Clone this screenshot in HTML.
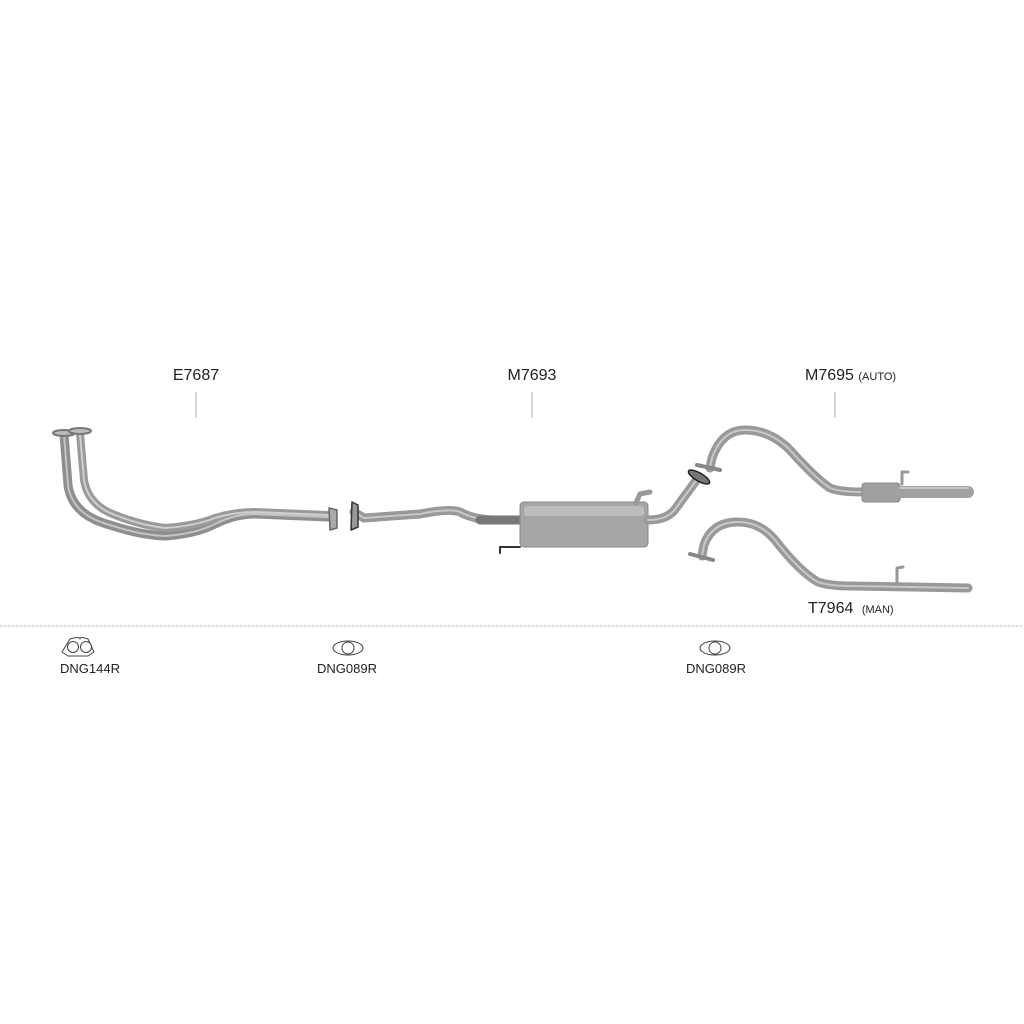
<!DOCTYPE html>
<html><head><meta charset="utf-8"><style>
html,body{margin:0;padding:0;background:#fff;}
svg{display:block;}
text{font-family:"Liberation Sans",sans-serif;fill:#222;}
</style></head><body>
<svg width="1024" height="1024" viewBox="0 0 1024 1024" xmlns="http://www.w3.org/2000/svg">
<g fill="none" stroke-linecap="round" stroke-linejoin="round">
<!-- leader lines -->
<line x1="196" y1="392" x2="196" y2="417" stroke="#aaa" stroke-width="1"/>
<line x1="532" y1="392" x2="532" y2="417" stroke="#aaa" stroke-width="1"/>
<line x1="835" y1="392" x2="835" y2="417" stroke="#aaa" stroke-width="1"/>
<!-- dotted separator -->
<line x1="0" y1="626" x2="1024" y2="626" stroke="#bbb" stroke-width="1" stroke-dasharray="2,2"/>

<!-- E7687 downpipes -->
<path d="M64 434 L68 485 Q72 515 110 525 Q140 535 165 536 Q195 534 215 524 Q235 514 255 514 L328 517" stroke="#8e8e8e" stroke-width="9"/>
<path d="M80 434 L84 480 Q88 505 115 515 Q140 525 165 528 Q195 526 215 518 Q235 512 255 512 L328 515" stroke="#9a9a9a" stroke-width="8"/>
<path d="M64 434 L68 485 Q72 515 110 525 Q140 535 165 536 Q195 534 215 524 Q235 514 255 514 L328 517" stroke="#c4c4c4" stroke-width="2"/>
<path d="M80 434 L84 480 Q88 505 115 515 Q140 525 165 528 Q195 526 215 518 Q235 512 255 512 L328 515" stroke="#cfcfcf" stroke-width="2"/>
<ellipse cx="64" cy="433" rx="11" ry="3" stroke="#777" stroke-width="2" fill="#bbb"/>
<ellipse cx="80" cy="431" rx="11" ry="3" stroke="#777" stroke-width="2" fill="#bbb"/>
<path d="M329 508 L337 510 L337 528 L330 530 Z" fill="#aaa" stroke="#666" stroke-width="1.5"/>

<!-- M7693 front pipe -->
<path d="M354 512 L364 518 L420 514 Q450 508 460 512 Q475 520 495 520 L520 520" stroke="#999" stroke-width="9"/>
<path d="M354 512 L364 518 L420 514 Q450 508 460 512 Q475 520 495 520 L520 520" stroke="#c8c8c8" stroke-width="2"/>
<path d="M480 520 L520 520" stroke="#777" stroke-width="9"/>
<path d="M352 502 L358 505 L358 527 L351 530 Z" fill="#999" stroke="#333" stroke-width="1.5"/>
<!-- muffler -->
<rect x="520" y="502" width="128" height="45" rx="4" fill="#a6a6a6" stroke="#888" stroke-width="1"/>
<rect x="524" y="506" width="120" height="10" rx="3" fill="#bcbcbc" stroke="none"/>
<path d="M520 547 L500 547 L500 553" stroke="#333" stroke-width="2"/>
<path d="M636 503 L640 494 L650 492" stroke="#999" stroke-width="5"/>
<!-- outlet -->
<path d="M648 520 Q668 520 676 508 L698 478" stroke="#999" stroke-width="9"/>
<path d="M648 520 Q668 520 676 508 L698 478" stroke="#c8c8c8" stroke-width="2"/>
<ellipse cx="699" cy="477" rx="12" ry="4" transform="rotate(30 699 477)" fill="#777" stroke="#222" stroke-width="1.5"/>

<!-- M7695 auto tailpipe -->
<path d="M710 468 L712 458 Q722 430 745 430 Q770 430 790 450 Q815 478 830 488 Q840 492 862 492" stroke="#999" stroke-width="9"/>
<path d="M710 468 L712 458 Q722 430 745 430 Q770 430 790 450 Q815 478 830 488 Q840 492 862 492" stroke="#c8c8c8" stroke-width="2"/>
<path d="M697 465 L720 470" stroke="#888" stroke-width="4"/>
<rect x="862" y="483" width="38" height="19" rx="3" fill="#a0a0a0" stroke="#888"/>
<path d="M900 492 L968 492" stroke="#a2a2a2" stroke-width="12"/>
<path d="M900 488 L968 488" stroke="#c8c8c8" stroke-width="2"/>
<path d="M902 484 L902 472 L908 472" stroke="#999" stroke-width="3"/>

<!-- T7964 man tailpipe -->
<path d="M702 556 L704 545 Q712 522 738 522 Q760 522 775 540 Q800 572 818 582 Q830 586 850 586 L968 588" stroke="#999" stroke-width="9"/>
<path d="M702 556 L704 545 Q712 522 738 522 Q760 522 775 540 Q800 572 818 582 Q830 586 850 586 L968 588" stroke="#c8c8c8" stroke-width="2"/>
<path d="M690 554 L713 560" stroke="#888" stroke-width="4"/>
<path d="M897 584 L897 568 L903 567" stroke="#999" stroke-width="3"/>

<!-- gaskets -->
<g stroke="#444" stroke-width="1" fill="#fff">
<path d="M70 639 Q80 636 80 639 Q80 636 88 639 L94 652 L88 656 L68 656 L62 652 Z"/>
<circle cx="73" cy="647" r="5.5"/><circle cx="86" cy="647" r="5.5"/>
<ellipse cx="348" cy="648" rx="15" ry="7"/><circle cx="348" cy="648" r="6"/>
<ellipse cx="715" cy="648" rx="15" ry="7"/><circle cx="715" cy="648" r="6"/>
</g>
</g>
<text x="196" y="380" font-size="16" text-anchor="middle">E7687</text>
<text x="532" y="380" font-size="16" text-anchor="middle">M7693</text>
<text x="805" y="380" font-size="16">M7695 <tspan font-size="11">(AUTO)</tspan></text>
<text x="808" y="613" font-size="16">T7964 <tspan font-size="11" dx="4">(MAN)</tspan></text>
<text x="90" y="673" font-size="13" text-anchor="middle">DNG144R</text>
<text x="347" y="673" font-size="13" text-anchor="middle">DNG089R</text>
<text x="716" y="673" font-size="13" text-anchor="middle">DNG089R</text>
</svg>
</body></html>
